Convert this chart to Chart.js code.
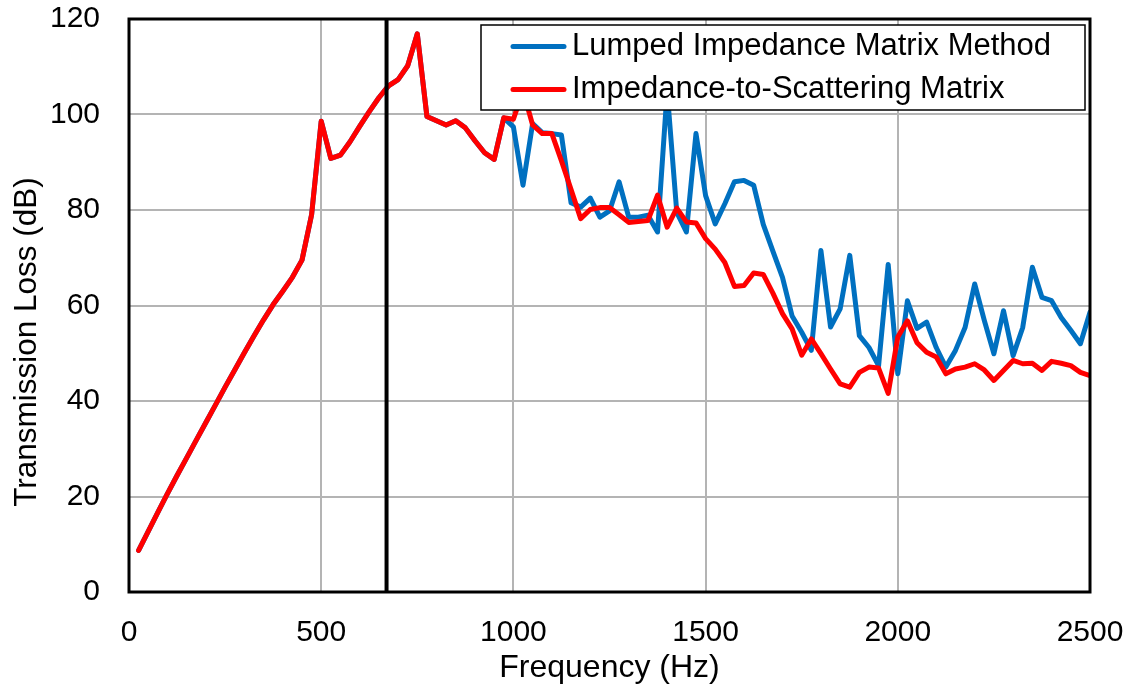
<!DOCTYPE html>
<html>
<head>
<meta charset="utf-8">
<title>Transmission Loss</title>
<script src="https://cdn.jsdelivr.net/npm/chart.js@4/dist/chart.umd.min.js"></script>
<style>
  html, body { margin: 0; padding: 0; background: #fff; }
  #wrap { width: 1137px; height: 692px; }
</style>
</head>
<body>
<div id="wrap"><canvas id="tlChart" width="1137" height="692"></canvas></div>
<script>
// Frequency points (Hz)
const freq = [
  25, 50, 75, 100, 125, 150, 175, 200, 225, 250,
  275, 300, 325, 350, 375, 400, 425, 450, 475, 500,
  525, 550, 575, 600, 625, 650, 675, 700, 725, 750,
  775, 800, 825, 850, 875, 900, 925, 950, 975, 1000,
  1025, 1050, 1075, 1100, 1125, 1150, 1175, 1200, 1225, 1250,
  1275, 1300, 1325, 1350, 1375, 1400, 1425, 1450, 1475, 1500,
  1525, 1550, 1575, 1600, 1625, 1650, 1675, 1700, 1725, 1750,
  1775, 1800, 1825, 1850, 1875, 1900, 1925, 1950, 1975, 2000,
  2025, 2050, 2075, 2100, 2125, 2150, 2175, 2200, 2225, 2250,
  2275, 2300, 2325, 2350, 2375, 2400, 2425, 2450, 2475, 2500
];

// Lumped Impedance Matrix Method (dB)
const lumpedTL = [
  8.7, 12.7, 16.7, 20.6, 24.4, 28.1, 31.8, 35.5, 39.2, 42.9,
  46.5, 50.1, 53.6, 57.0, 60.2, 63.0, 65.9, 69.5, 79.0, 98.6,
  90.8, 91.5, 94.3, 97.5, 100.6, 103.5, 106.0, 107.3, 110.2, 116.9,
  99.6, 98.7, 97.8, 98.7, 97.2, 94.5, 92.0, 90.6, 99.3, 97.4,
  85.2, 98.1, 96.2, 96.0, 95.7, 81.5, 80.6, 82.5, 78.5, 79.8,
  85.9, 78.5, 78.5, 78.9, 75.4, 105.0, 79.5, 75.4, 96.0, 83.0,
  77.1, 81.3, 85.9, 86.2, 85.2, 77.0, 71.4, 65.9, 57.8, 54.4,
  50.6, 71.5, 55.5, 59.3, 70.5, 53.7, 51.2, 47.4, 68.6, 45.7,
  61.0, 55.2, 56.5, 51.2, 47.1, 50.6, 55.4, 64.5, 56.9, 49.9,
  58.9, 49.5, 55.4, 68.0, 61.7, 61.0, 57.5, 54.8, 52.0, 58.6
];

// Impedance-to-Scattering Matrix (dB)
const scatterTL = [
  8.7, 12.7, 16.7, 20.6, 24.4, 28.1, 31.8, 35.5, 39.2, 42.9,
  46.5, 50.1, 53.6, 57.0, 60.2, 63.0, 65.9, 69.5, 79.0, 98.6,
  90.8, 91.5, 94.3, 97.5, 100.6, 103.5, 106.0, 107.3, 110.2, 116.9,
  99.6, 98.7, 97.8, 98.7, 97.2, 94.5, 92.0, 90.6, 99.3, 99.0,
  105.0, 97.8, 96.0, 96.0, 90.3, 84.3, 78.2, 80.1, 80.5, 80.5,
  79.0, 77.4, 77.6, 77.8, 83.1, 76.4, 80.4, 77.5, 77.3, 74.0,
  71.8, 69.0, 64.0, 64.2, 66.8, 66.5, 62.6, 58.3, 55.1, 49.6,
  53.0, 49.9, 46.7, 43.6, 42.9, 46.0, 47.1, 46.9, 41.6, 53.4,
  56.8, 52.2, 50.2, 49.2, 45.7, 46.7, 47.1, 47.8, 46.5, 44.3,
  46.4, 48.5, 47.8, 47.9, 46.4, 48.3, 47.9, 47.4, 46.0, 45.3
];

// Vertical marker line
const markerX = [670, 670];
const markerY = [0, 120];

const xTicks = [0, 500, 1000, 1500, 2000, 2500];
const yTicks = [0, 20, 40, 60, 80, 100, 120];

const FONT = "'Liberation Sans', Arial, sans-serif";

function toPoints(xs, ys) {
  return xs.map((x, i) => ({ x: x, y: ys[i] }));
}

// keep the plot area where the reference has it
function noLabelPadding(scale) {
  scale.paddingTop = 0;
  scale.paddingBottom = 0;
  scale.paddingLeft = 0;
  scale.paddingRight = 0;
}

// Black frame around the plot area + legend box drawn over the lines
const framePlugin = {
  id: "frameAndLegend",
  afterDatasetsDraw(chart) {
    const { ctx, chartArea } = chart;
    ctx.save();
    ctx.strokeStyle = "#000";
    ctx.lineWidth = 3;
    ctx.strokeRect(chartArea.left, chartArea.top,
      chartArea.right - chartArea.left, chartArea.bottom - chartArea.top);

    // legend
    const box = { x: 481, y: 25, w: 604, h: 85 };
    ctx.fillStyle = "#fff";
    ctx.fillRect(box.x, box.y, box.w, box.h);
    ctx.lineWidth = 1.5;
    ctx.strokeRect(box.x, box.y, box.w, box.h);

    const rows = [0, 1].map((i) => chart.data.datasets.find((d) => d.legendRow === i));
    const rowY = [46.5, 89.5];
    ctx.font = "31px " + FONT;
    ctx.textBaseline = "middle";
    ctx.textAlign = "left";
    rows.forEach((ds, i) => {
      ctx.strokeStyle = ds.borderColor;
      ctx.lineWidth = 5;
      ctx.lineCap = "round";
      ctx.beginPath();
      ctx.moveTo(513, rowY[i]);
      ctx.lineTo(564, rowY[i]);
      ctx.stroke();
      ctx.fillStyle = "#000";
      ctx.fillText(ds.label, 572, rowY[i]);
    });
    ctx.restore();
  },
  afterDraw(chart) {
    // y axis title, centred on the whole figure height like the original
    const { ctx } = chart;
    ctx.save();
    ctx.translate(27, 342);
    ctx.rotate(-Math.PI / 2);
    ctx.font = "31.5px " + FONT;
    ctx.fillStyle = "#000";
    ctx.textAlign = "center";
    ctx.textBaseline = "middle";
    ctx.fillText("Transmission Loss (dB)", 0, 0);
    ctx.restore();
  }
};

document.addEventListener("DOMContentLoaded", () => {
  const ctx = document.getElementById("tlChart");

  new Chart(ctx, {
    type: "line",
    data: {
      datasets: [
        {
          label: "Lumped Impedance Matrix Method",
          legendRow: 0,
          data: toPoints(freq, lumpedTL),
          borderColor: "#0070C0",
          borderWidth: 5,
          order: 2
        },
        {
          label: "Impedance-to-Scattering Matrix",
          legendRow: 1,
          data: toPoints(freq, scatterTL),
          borderColor: "#FF0000",
          borderWidth: 5,
          order: 1
        },
        {
          label: "marker",
          data: toPoints(markerX, markerY),
          borderColor: "#000",
          borderWidth: 4,
          borderCapStyle: "butt",
          order: 0
        }
      ]
    },
    options: {
      responsive: false,
      animation: false,
      devicePixelRatio: 1,
      layout: { padding: { top: 19, right: 47, bottom: 0, left: 0 } },
      elements: {
        point: { radius: 0, hoverRadius: 0 },
        line: { tension: 0, borderJoinStyle: "round", borderCapStyle: "round", fill: false }
      },
      plugins: {
        legend: { display: false },
        tooltip: { enabled: false }
      },
      scales: {
        x: {
          type: "linear",
          min: 0,
          max: 2500,
          afterBuildTicks: (scale) => {
            scale.ticks = xTicks.map((v) => ({ value: v }));
          },
          afterFit: (scale) => {
            scale.height = 100;
            noLabelPadding(scale);
          },
          grid: { color: "#b4b4b4", lineWidth: 2, drawTicks: false },
          border: { display: false },
          ticks: {
            color: "#000",
            padding: 23,
            font: { family: FONT, size: 30 },
            callback: (v) => String(v)
          },
          title: {
            display: true,
            text: "Frequency (Hz)",
            color: "#000",
            font: { family: FONT, size: 32 },
            padding: { top: 0, bottom: 5 }
          }
        },
        y: {
          min: 0,
          max: 120,
          afterBuildTicks: (scale) => {
            scale.ticks = yTicks.map((v) => ({ value: v }));
          },
          afterFit: (scale) => {
            scale.width = 129;
            noLabelPadding(scale);
          },
          grid: { color: "#b4b4b4", lineWidth: 2, drawTicks: false },
          border: { display: false },
          ticks: {
            color: "#000",
            padding: 29,
            font: { family: FONT, size: 30 },
            callback: (v) => String(v)
          },
          title: { display: false }
        }
      }
    },
    plugins: [framePlugin]
  });
});
</script>
</body>
</html>
